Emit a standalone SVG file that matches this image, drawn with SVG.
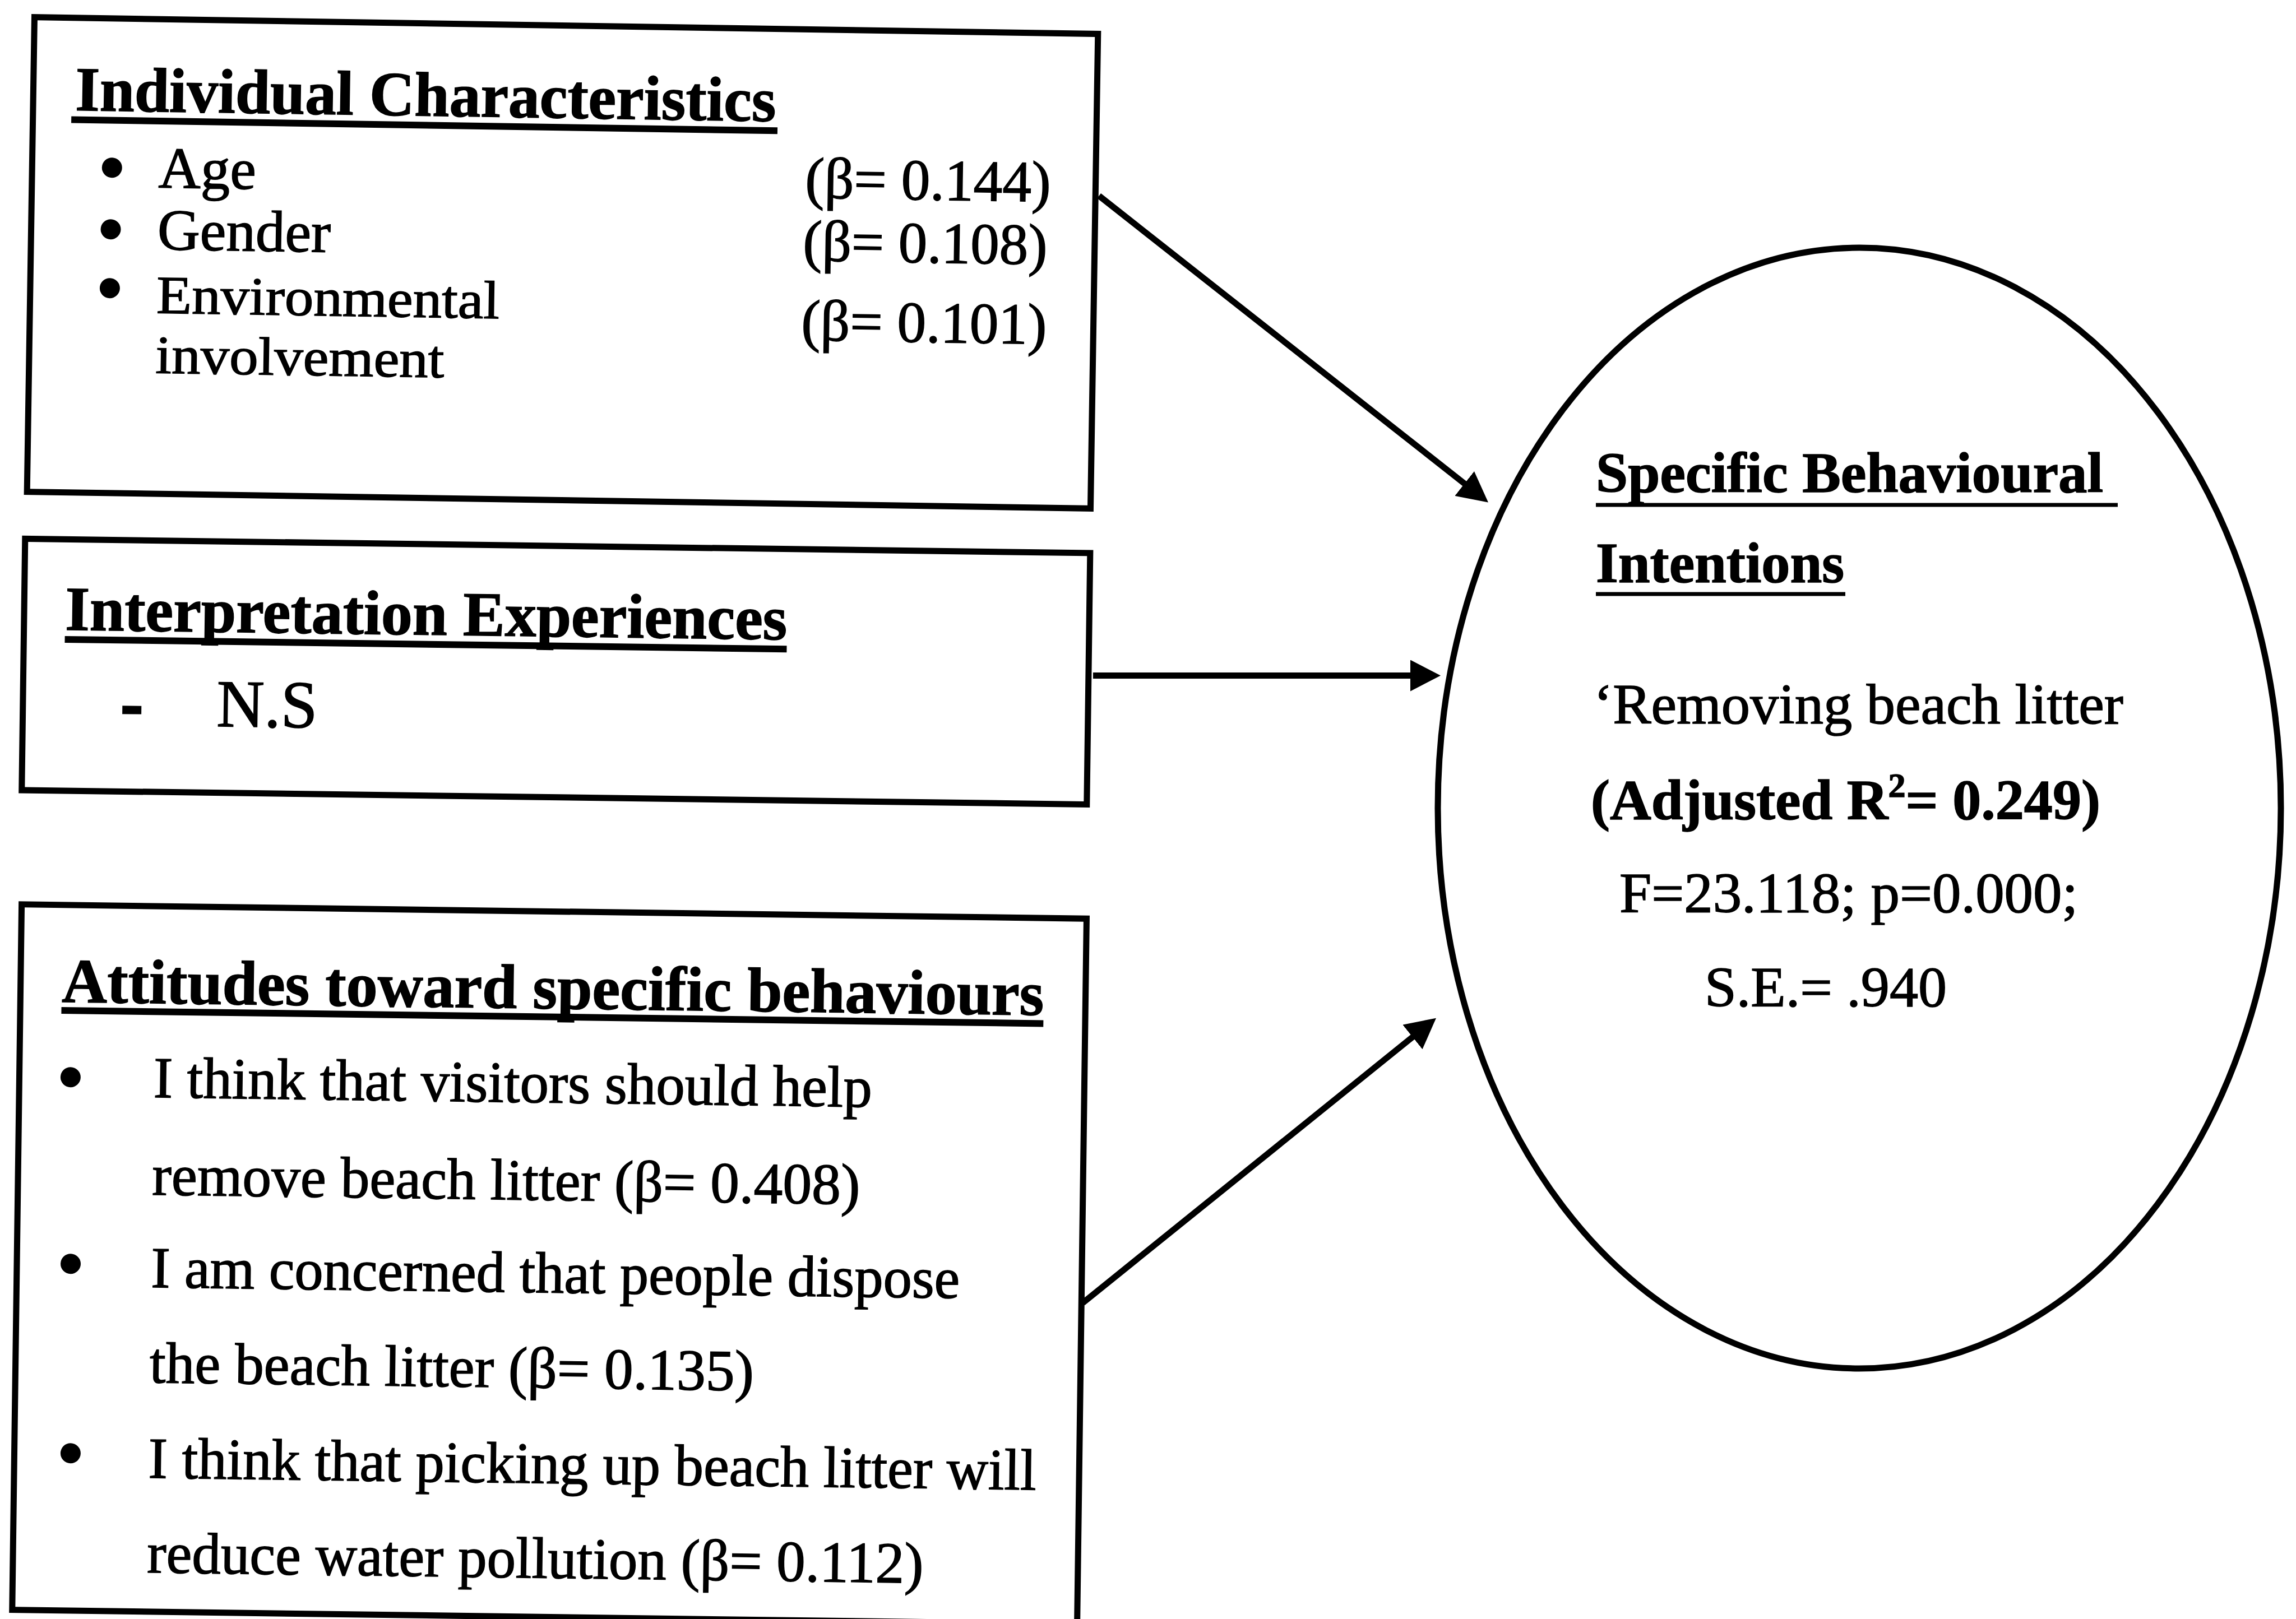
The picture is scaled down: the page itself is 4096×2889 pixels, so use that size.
<svg xmlns="http://www.w3.org/2000/svg" width="4096" height="2889" viewBox="0 0 4096 2889">
<style>
.box{fill:none;stroke:#000;stroke-width:11}
.t{font-family:"Liberation Serif","Times New Roman",serif;fill:#000;font-size:104px;stroke:#000;stroke-width:1.5}
.b{font-weight:bold;font-size:112px}
.e{font-size:102px}
.ul{stroke:#000;stroke-width:12}
.ule{stroke:#000;stroke-width:7}
.bul{fill:#000}
.conn{stroke:#000;stroke-width:11;fill:none}
</style>
<defs>
<marker id="ah" markerUnits="userSpaceOnUse" viewBox="0 0 54 56" refX="34" refY="28" markerWidth="54" markerHeight="56" orient="auto">
<path d="M0,0 L54,28 L0,56 Z" fill="#000"/>
</marker>
</defs>
<rect width="4096" height="2889" fill="#fff"/>

<g id="individual-characteristics" transform="rotate(0.9 61.5 30.7)">
<rect class="box" x="61.5" y="30.7" width="1897.5" height="847"/>
<text class="t b" x="136.6" y="195.6" textLength="1250" lengthAdjust="spacingAndGlyphs">Individual Characteristics</text>
<line class="ul" x1="130" y1="212.5" x2="1390" y2="212.5"/>
<circle class="bul" cx="204" cy="297" r="18"/>
<circle class="bul" cx="203.5" cy="407" r="18"/>
<circle class="bul" cx="203.5" cy="512" r="18"/>
<text class="t" x="287" y="331" textLength="174" lengthAdjust="spacingAndGlyphs">Age</text>
<text class="t" x="287" y="441.5" textLength="309" lengthAdjust="spacingAndGlyphs">Gender</text>
<text class="t" x="287" y="555" style="font-size:96px" textLength="612" lengthAdjust="spacingAndGlyphs">Environmental</text>
<text class="t" x="287" y="662" style="font-size:96px" textLength="515" lengthAdjust="spacingAndGlyphs">involvement</text>
<text class="t" x="1441" y="331.4" textLength="438" lengthAdjust="spacingAndGlyphs">(β= 0.144)</text>
<text class="t" x="1438.6" y="443.5" textLength="436" lengthAdjust="spacingAndGlyphs">(β= 0.108)</text>
<text class="t" x="1437.8" y="585.5" textLength="438" lengthAdjust="spacingAndGlyphs">(β= 0.101)</text>
</g>

<g id="interpretation-experiences" transform="rotate(0.77 44.8 961.4)">
<rect class="box" x="44.8" y="961.4" width="1900.2" height="448.6"/>
<text class="t b" x="118.2" y="1123" textLength="1288" lengthAdjust="spacingAndGlyphs">Interpretation Experiences</text>
<line class="ul" x1="118" y1="1140" x2="1406" y2="1140"/>
<text class="t" x="222" y="1289" style="stroke-width:7">-</text>
<text class="t" x="390.5" y="1291.4" style="font-size:120px" textLength="180" lengthAdjust="spacingAndGlyphs">N.S</text>
</g>

<g id="attitudes" transform="rotate(0.766 38.6 1613.8)">
<rect class="box" x="38.6" y="1613.8" width="1900" height="1259"/>
<text class="t b" x="112.3" y="1787" textLength="1752" lengthAdjust="spacingAndGlyphs">Attitudes toward specific behaviours</text>
<line class="ul" x1="112" y1="1802" x2="1864" y2="1802"/>
<circle class="bul" cx="130" cy="1921" r="18"/>
<circle class="bul" cx="134.6" cy="2254" r="18"/>
<circle class="bul" cx="139" cy="2592" r="18"/>
<text class="t" x="278" y="1954.9" textLength="1282" lengthAdjust="spacingAndGlyphs">I think that visitors should help</text>
<text class="t" x="278" y="2128.9" textLength="1263" lengthAdjust="spacingAndGlyphs">remove beach litter (β= 0.408)</text>
<text class="t" x="278" y="2293.9" textLength="1443" lengthAdjust="spacingAndGlyphs">I am concerned that people dispose</text>
<text class="t" x="278" y="2463.9" textLength="1078" lengthAdjust="spacingAndGlyphs">the beach litter (β= 0.135)</text>
<text class="t" x="278" y="2634" textLength="1584" lengthAdjust="spacingAndGlyphs">I think that picking up beach litter will</text>
<text class="t" x="278" y="2803" textLength="1385" lengthAdjust="spacingAndGlyphs">reduce water pollution (β= 0.112)</text>
</g>

<g id="specific-behavioural-intentions">
<ellipse cx="3317" cy="1442" rx="752" ry="1000" class="box"/>
<text class="t e" x="2847" y="878" font-weight="bold" textLength="905" lengthAdjust="spacingAndGlyphs">Specific Behavioural</text>
<line class="ule" x1="2847" y1="901" x2="3778" y2="901"/>
<text class="t e" x="2847" y="1039" font-weight="bold" textLength="443" lengthAdjust="spacingAndGlyphs">Intentions</text>
<line class="ule" x1="2847" y1="1060" x2="3292" y2="1060"/>
<text class="t e" x="2843" y="1291" textLength="945" lengthAdjust="spacingAndGlyphs">‘Removing beach litter</text>
<text class="t e" x="2838" y="1462" font-weight="bold" textLength="909" lengthAdjust="spacingAndGlyphs">(Adjusted R<tspan dy="-40" style="font-size:62px">2</tspan><tspan dy="40">= 0.249)</tspan></text>
<text class="t e" x="2889" y="1628" textLength="818" lengthAdjust="spacingAndGlyphs">F=23.118; p=0.000;</text>
<text class="t e" x="3041" y="1796" textLength="432" lengthAdjust="spacingAndGlyphs">S.E.= .940</text>
</g>

<g id="connectors">
<line class="conn" x1="1960.6" y1="349.4" x2="2639.3" y2="884" marker-end="url(#ah)"/>
<line class="conn" x1="1950" y1="1205.5" x2="2550" y2="1205.5" marker-end="url(#ah)"/>
<line class="conn" x1="1931.6" y1="2325" x2="2546.4" y2="1829.2" marker-end="url(#ah)"/>
</g>
</svg>
